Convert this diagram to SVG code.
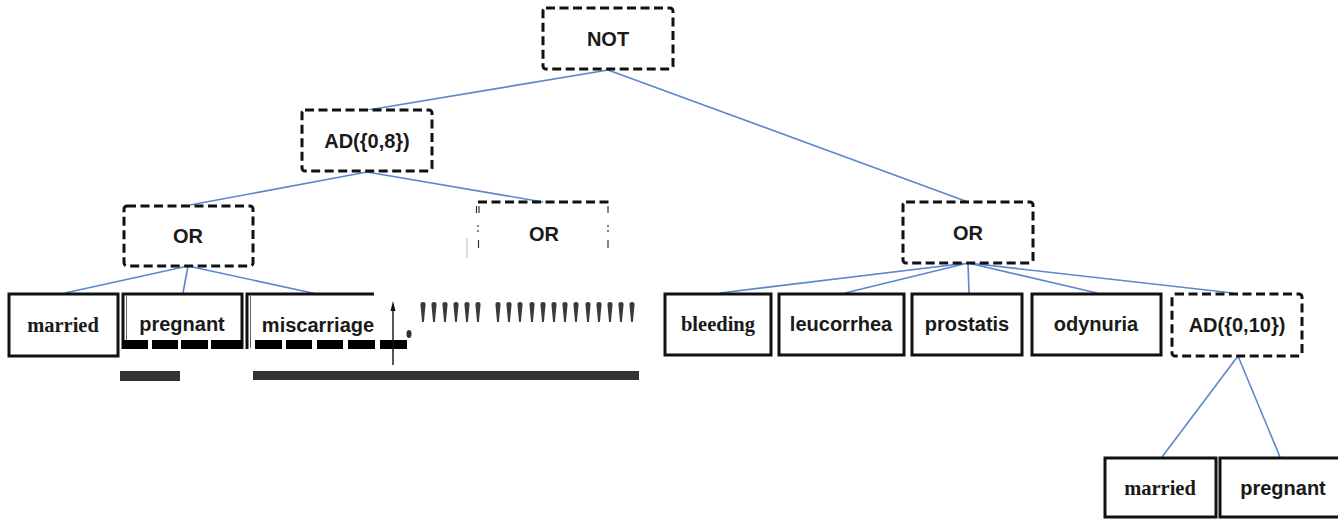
<svg xmlns="http://www.w3.org/2000/svg" width="1338" height="521" viewBox="0 0 1338 521">
<style>
.dash{fill:#fff;stroke:#111;stroke-width:3;stroke-dasharray:9 4.5}
.leaf{fill:#fff;stroke:#111;stroke-width:3}
.e{stroke:#5b87cc;stroke-width:1.6;fill:none}
.t{font-family:"Liberation Sans",Arial,sans-serif;font-size:20px;font-weight:bold;fill:#1a1a1a;text-anchor:middle;dominant-baseline:central}
.s{font-family:"Liberation Serif","Times New Roman",serif;font-size:20.5px;font-weight:bold;fill:#1a1a1a;text-anchor:middle;dominant-baseline:central}
.blk{fill:#000}
.bar{fill:#333}
.mk{stroke:#333;stroke-width:1.2;fill:none}
</style>
<defs>
<path id="drop" d="M-2.6,2 Q-2.6,0 0,0 Q2.6,0 2.6,2 L0.9,20 L-0.9,20 Z" fill="#3a3a3a"/>
</defs>

<g id="connectors">
<line class="e" x1="608" y1="70" x2="368" y2="110"/>
<line class="e" x1="608" y1="70" x2="968" y2="202"/>
<line class="e" x1="367" y1="172" x2="190" y2="205"/>
<line class="e" x1="367" y1="172" x2="543" y2="202"/>
<line class="e" x1="188" y1="266" x2="65" y2="293"/>
<line class="e" x1="188" y1="266" x2="183" y2="293"/>
<line class="e" x1="188" y1="266" x2="317" y2="294"/>
<line class="e" x1="968" y1="263" x2="720" y2="293"/>
<line class="e" x1="968" y1="263" x2="845" y2="293"/>
<line class="e" x1="968" y1="263" x2="969" y2="293"/>
<line class="e" x1="968" y1="263" x2="1097" y2="293"/>
<line class="e" x1="968" y1="263" x2="1233" y2="293"/>
<line class="e" x1="1238" y1="356" x2="1162" y2="457"/>
<line class="e" x1="1238" y1="356" x2="1280" y2="457"/>
</g>

<g id="n-not">
<rect class="dash" x="543" y="8" width="130" height="61" rx="3"/>
<text class="t" x="608" y="39">NOT</text>
</g>
<g id="n-ad8">
<rect class="dash" x="302" y="110" width="130" height="61" rx="3"/>
<text class="t" x="367" y="141">AD({0,8})</text>
</g>
<g id="n-or-left">
<rect class="dash" x="124" y="206" width="129" height="60" rx="3"/>
<text class="t" x="188" y="236">OR</text>
</g>
<g id="n-or-mid">
<line x1="478" y1="202" x2="609" y2="202" stroke="#111" stroke-width="3" stroke-dasharray="9 4.5"/>
<line class="mk" x1="476.5" y1="206" x2="476.5" y2="213"/>
<line class="mk" x1="479" y1="206" x2="479" y2="213"/>
<line class="mk" x1="478" y1="225" x2="478" y2="227"/>
<line class="mk" x1="478" y1="230" x2="478" y2="232"/>
<line class="mk" x1="478.5" y1="240" x2="478.5" y2="248"/>
<line class="mk" x1="608" y1="206" x2="608" y2="213"/>
<line class="mk" x1="608" y1="225" x2="608" y2="227"/>
<line class="mk" x1="608" y1="230" x2="608" y2="232"/>
<line class="mk" x1="608" y1="240" x2="608" y2="248"/>
<line x1="467" y1="238" x2="467" y2="258" stroke="#bbb" stroke-width="1"/>
<text class="t" x="544" y="234">OR</text>
</g>
<g id="n-or-right">
<rect class="dash" x="903" y="202" width="130" height="61" rx="3"/>
<text class="t" x="968" y="233">OR</text>
</g>

<g id="n-married1">
<rect class="leaf" x="9" y="294" width="109" height="62"/>
<text class="s" x="63" y="325">married</text>
</g>
<g id="n-pregnant1">
<path d="M123,349 V294 H242 V349" fill="#fff" stroke="#111" stroke-width="3"/>
<line x1="126.5" y1="296" x2="126.5" y2="348" stroke="#666" stroke-width="1"/>
<text class="t" x="182" y="324">pregnant</text>
</g>
<g id="n-miscarriage">
<path d="M247,349 V294 H374" fill="none" stroke="#111" stroke-width="3"/>
<line x1="250.5" y1="296" x2="250.5" y2="348" stroke="#666" stroke-width="1"/>
<text class="t" x="318" y="325">miscarriage</text>
</g>

<g id="artifacts">
<rect class="blk" x="122" y="340" width="26" height="9"/>
<rect class="blk" x="152" y="340" width="26" height="9"/>
<rect class="blk" x="181" y="340" width="27" height="9"/>
<rect class="blk" x="211" y="340" width="31" height="9"/>
<rect class="blk" x="255" y="340" width="27" height="9"/>
<rect class="blk" x="286" y="340" width="26" height="9"/>
<rect class="blk" x="317" y="340" width="26" height="9"/>
<rect class="blk" x="348" y="340" width="27" height="9"/>
<rect class="blk" x="380" y="340" width="27" height="9"/>
<rect class="bar" x="120" y="371" width="60" height="10"/>
<rect class="bar" x="253" y="371" width="386" height="9"/>
<line x1="393" y1="365" x2="393" y2="308" stroke="#111" stroke-width="1.4"/>
<path d="M390.5,311 L393,301 L395.5,311 Z" fill="#111"/>
<ellipse cx="409" cy="334" rx="2.5" ry="4" fill="#333"/>
<use href="#drop" x="423" y="302"/>
<use href="#drop" x="434" y="302"/>
<use href="#drop" x="445" y="302"/>
<use href="#drop" x="456" y="302"/>
<use href="#drop" x="467" y="302"/>
<use href="#drop" x="478" y="302"/>
<use href="#drop" x="498" y="302"/>
<use href="#drop" x="509" y="302"/>
<use href="#drop" x="520" y="302"/>
<use href="#drop" x="532" y="302"/>
<use href="#drop" x="543" y="302"/>
<use href="#drop" x="554" y="302"/>
<use href="#drop" x="565" y="302"/>
<use href="#drop" x="576" y="302"/>
<use href="#drop" x="588" y="302"/>
<use href="#drop" x="599" y="302"/>
<use href="#drop" x="610" y="302"/>
<use href="#drop" x="621" y="302"/>
<use href="#drop" x="632" y="302"/>
</g>

<g id="n-bleeding">
<rect class="leaf" x="665" y="294" width="106" height="61"/>
<text class="s" x="718" y="324">bleeding</text>
</g>
<g id="n-leucorrhea">
<rect class="leaf" x="779" y="294" width="125" height="61"/>
<text class="t" x="841" y="324">leucorrhea</text>
</g>
<g id="n-prostatis">
<rect class="leaf" x="912" y="294" width="110" height="61"/>
<text class="t" x="967" y="324">prostatis</text>
</g>
<g id="n-odynuria">
<rect class="leaf" x="1032" y="294" width="129" height="61"/>
<text class="t" x="1096" y="324">odynuria</text>
</g>
<g id="n-ad10">
<rect class="dash" x="1172" y="294" width="130" height="62" rx="3"/>
<text class="t" x="1237" y="325">AD({0,10})</text>
</g>
<g id="n-married2">
<rect class="leaf" x="1105" y="458" width="111" height="59"/>
<text class="s" x="1160" y="488">married</text>
</g>
<g id="n-pregnant2">
<rect class="leaf" x="1220" y="458" width="130" height="59"/>
<text class="t" x="1283" y="488">pregnant</text>
</g>
</svg>
